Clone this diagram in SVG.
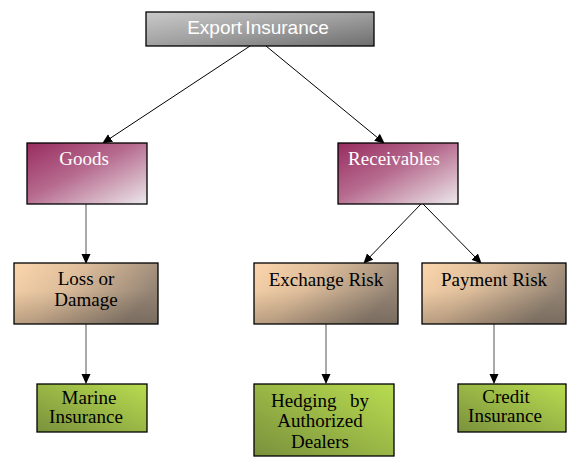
<svg xmlns="http://www.w3.org/2000/svg" width="586" height="465" viewBox="0 0 586 465">
<defs>
<linearGradient id="gGray" x1="0" y1="0" x2="1" y2="1">
<stop offset="0" stop-color="#cacaca"/><stop offset="0.5" stop-color="#a0a0a0"/><stop offset="1" stop-color="#6e6e6e"/>
</linearGradient>
<linearGradient id="gMag" x1="0" y1="0" x2="1" y2="1">
<stop offset="0" stop-color="#982c60"/><stop offset="0.45" stop-color="#b66a8e"/><stop offset="1" stop-color="#ece8ea"/>
</linearGradient>
<linearGradient id="gTan" x1="0" y1="0" x2="1" y2="0.4">
<stop offset="0" stop-color="#fcd6ac"/><stop offset="0.45" stop-color="#dcbc9a"/><stop offset="1" stop-color="#948474"/>
</linearGradient>
<linearGradient id="gShade" x1="0" y1="0" x2="0" y2="1">
<stop offset="0.45" stop-color="#000" stop-opacity="0"/><stop offset="1" stop-color="#000" stop-opacity="0.18"/>
</linearGradient>
<linearGradient id="gGreen" x1="0" y1="1" x2="1" y2="0">
<stop offset="0" stop-color="#7a913c"/><stop offset="1" stop-color="#b8dc50"/>
</linearGradient>
<marker id="arr" markerWidth="10" markerHeight="10" refX="9" refY="5" orient="auto" markerUnits="userSpaceOnUse">
<path d="M0,0.5 L10,5 L0,9.5 Z" fill="#000"/>
</marker>
<style>
.box{stroke:#000;stroke-width:1.3}
.t{font-family:"Liberation Serif","Times New Roman",serif;font-size:19px;text-anchor:middle}
.w{fill:#fff}
.k{fill:#000}
.ln{stroke:#000;stroke-width:1;fill:none;marker-end:url(#arr)}
.lv{stroke:#555;stroke-width:1;fill:none;marker-end:url(#arr)}
</style>
</defs>
<rect width="586" height="465" fill="#fff"/>

<g id="connectors">
<line class="ln" x1="250" y1="46" x2="103" y2="143"/>
<line class="ln" x1="266" y1="46" x2="384" y2="143"/>
<line class="ln" x1="421" y1="204" x2="364" y2="263"/>
<line class="ln" x1="423" y1="204" x2="481" y2="263"/>
<line class="lv" x1="86" y1="204" x2="86" y2="263"/>
<line class="lv" x1="86" y1="324" x2="86" y2="383"/>
<line class="lv" x1="326" y1="324" x2="326" y2="383"/>
<line class="lv" x1="494" y1="324" x2="494" y2="383"/>
</g>

<g id="export-insurance">
<rect class="box" x="146" y="12" width="228" height="34" fill="url(#gGray)"/>
<text x="258" y="34" style="font-family:'Liberation Sans',Arial,sans-serif;font-size:19px;text-anchor:middle;word-spacing:-2px" class="w">Export Insurance</text>
</g>

<g id="goods">
<rect class="box" x="27" y="143" width="120" height="61" fill="url(#gMag)"/>
<text class="t w" x="84" y="165">Goods</text>
</g>

<g id="receivables">
<rect class="box" x="338" y="143" width="120" height="61" fill="url(#gMag)"/>
<text class="t w" x="394" y="165">Receivables</text>
</g>

<g id="loss-or-damage">
<rect class="box" x="14" y="263" width="144" height="61" fill="url(#gTan)"/>
<rect x="14" y="263" width="144" height="61" fill="url(#gShade)"/>
<text class="t k" x="86" y="285">Loss or</text>
<text class="t k" x="86" y="306">Damage</text>
</g>

<g id="exchange-risk">
<rect class="box" x="254" y="263" width="144" height="61" fill="url(#gTan)"/>
<rect x="254" y="263" width="144" height="61" fill="url(#gShade)"/>
<text class="t k" x="326" y="286">Exchange Risk</text>
</g>

<g id="payment-risk">
<rect class="box" x="422" y="263" width="144" height="61" fill="url(#gTan)"/>
<rect x="422" y="263" width="144" height="61" fill="url(#gShade)"/>
<text class="t k" x="494" y="286">Payment Risk</text>
</g>

<g id="marine-insurance">
<rect class="box" x="37" y="384" width="110" height="48" fill="url(#gGreen)"/>
<text class="t k" x="89" y="404">Marine</text>
<text class="t k" x="86" y="423">Insurance</text>
</g>

<g id="hedging">
<rect class="box" x="254" y="384" width="140" height="72" fill="url(#gGreen)"/>
<text class="t k" style="text-anchor:start" x="271" y="407">Hedging <tspan x="350">by</tspan></text>
<text class="t k" x="320" y="427">Authorized</text>
<text class="t k" x="320" y="448">Dealers</text>
</g>

<g id="credit-insurance">
<rect class="box" x="458" y="384" width="108" height="48" fill="url(#gGreen)"/>
<text class="t k" x="506" y="403">Credit</text>
<text class="t k" x="505" y="422">Insurance</text>
</g>
</svg>
